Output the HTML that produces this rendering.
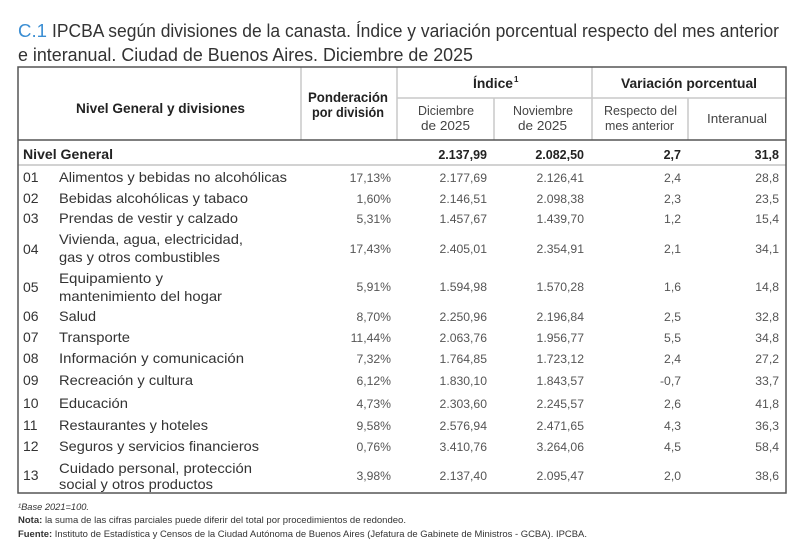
<!DOCTYPE html>
<html><head><meta charset="utf-8">
<style>
html,body{margin:0;padding:0;background:#fff;}
svg{display:block;}
text{font-family:"Liberation Sans",sans-serif;}
.t{fill:#333;font-size:18.5px;}
.h{fill:#222;font-size:14px;font-weight:bold;}
.s{fill:#444;font-size:12.5px;}
.n{fill:#333;font-size:14px;}
.v{fill:#555;font-size:12.2px;text-anchor:end;}
.b{fill:#222;font-size:12.5px;font-weight:bold;text-anchor:end;}
.f{fill:#333;font-size:9.5px;}
</style></head>
<body>
<svg width="807" height="546" viewBox="0 0 807 546" xmlns="http://www.w3.org/2000/svg">
<rect x="0" y="0" width="807" height="546" fill="#fff"/>
<!-- Title -->
<text class="t" x="18" y="37" textLength="29" lengthAdjust="spacingAndGlyphs" style="fill:#3b8ed3">C.1</text>
<text class="t" x="52" y="37" textLength="727" lengthAdjust="spacingAndGlyphs">IPCBA según divisiones de la canasta. Índice y variación porcentual respecto del mes anterior</text>
<text class="t" x="18" y="61" textLength="455" lengthAdjust="spacingAndGlyphs">e interanual. Ciudad de Buenos Aires. Diciembre de 2025</text>

<!-- Table lines -->
<g stroke="#c8c8c8" stroke-width="1.5" fill="none">
<line x1="301" y1="67" x2="301" y2="140"/>
<line x1="397" y1="67" x2="397" y2="140"/>
<line x1="592" y1="67" x2="592" y2="140"/>
<line x1="494" y1="98" x2="494" y2="140"/>
<line x1="688" y1="98" x2="688" y2="140"/>
<line x1="397" y1="98" x2="786" y2="98"/>
</g>
<line x1="18" y1="165" x2="786" y2="165" stroke="#d2d2d2" stroke-width="2"/>
<line x1="18" y1="140" x2="786" y2="140" stroke="#555" stroke-width="1.5"/>
<rect x="18" y="67" width="768" height="426" fill="none" stroke="#555" stroke-width="1.5"/>

<!-- Header -->
<text class="h" x="76" y="113" textLength="169" lengthAdjust="spacingAndGlyphs">Nivel General y divisiones</text>
<text class="h" x="308" y="102" textLength="80" lengthAdjust="spacingAndGlyphs">Ponderación</text>
<text class="h" x="312" y="117" textLength="72" lengthAdjust="spacingAndGlyphs">por división</text>
<text class="h" x="473" y="88" textLength="40" lengthAdjust="spacingAndGlyphs">Índice</text>
<text class="h" x="514" y="82" style="font-size:8px">1</text>
<text class="h" x="621" y="88" textLength="136" lengthAdjust="spacingAndGlyphs">Variación porcentual</text>
<text class="s" x="418" y="115" textLength="56" lengthAdjust="spacingAndGlyphs">Diciembre</text>
<text class="s" x="421" y="130" textLength="49" lengthAdjust="spacingAndGlyphs">de 2025</text>
<text class="s" x="513" y="115" textLength="60" lengthAdjust="spacingAndGlyphs">Noviembre</text>
<text class="s" x="518" y="130" textLength="49" lengthAdjust="spacingAndGlyphs">de 2025</text>
<text class="s" x="604" y="115" textLength="73" lengthAdjust="spacingAndGlyphs">Respecto del</text>
<text class="s" x="605" y="130" textLength="69" lengthAdjust="spacingAndGlyphs">mes anterior</text>
<text class="s" x="707" y="123" textLength="60" lengthAdjust="spacingAndGlyphs">Interanual</text>

<!-- Nivel General -->
<text class="h" x="23" y="159" textLength="90" lengthAdjust="spacingAndGlyphs">Nivel General</text>
<text class="b" x="487" y="159">2.137,99</text>
<text class="b" x="584" y="159">2.082,50</text>
<text class="b" x="681" y="159">2,7</text>
<text class="b" x="779" y="159">31,8</text>

<!-- Rows -->
<g>
<text class="n" x="23" y="182">01</text>
<text class="n" x="59" y="182" textLength="228" lengthAdjust="spacingAndGlyphs">Alimentos y bebidas no alcohólicas</text>
<text class="v" x="391" y="182">17,13%</text><text class="v" x="487" y="182">2.177,69</text><text class="v" x="584" y="182">2.126,41</text><text class="v" x="681" y="182">2,4</text><text class="v" x="779" y="182">28,8</text>

<text class="n" x="23" y="203">02</text>
<text class="n" x="59" y="203" textLength="189" lengthAdjust="spacingAndGlyphs">Bebidas alcohólicas y tabaco</text>
<text class="v" x="391" y="203">1,60%</text><text class="v" x="487" y="203">2.146,51</text><text class="v" x="584" y="203">2.098,38</text><text class="v" x="681" y="203">2,3</text><text class="v" x="779" y="203">23,5</text>

<text class="n" x="23" y="223">03</text>
<text class="n" x="59" y="223" textLength="179" lengthAdjust="spacingAndGlyphs">Prendas de vestir y calzado</text>
<text class="v" x="391" y="223">5,31%</text><text class="v" x="487" y="223">1.457,67</text><text class="v" x="584" y="223">1.439,70</text><text class="v" x="681" y="223">1,2</text><text class="v" x="779" y="223">15,4</text>

<text class="n" x="23" y="254">04</text>
<text class="n" x="59" y="244" textLength="184" lengthAdjust="spacingAndGlyphs">Vivienda, agua, electricidad,</text>
<text class="n" x="59" y="262" textLength="161" lengthAdjust="spacingAndGlyphs">gas y otros combustibles</text>
<text class="v" x="391" y="253">17,43%</text><text class="v" x="487" y="253">2.405,01</text><text class="v" x="584" y="253">2.354,91</text><text class="v" x="681" y="253">2,1</text><text class="v" x="779" y="253">34,1</text>

<text class="n" x="23" y="292">05</text>
<text class="n" x="59" y="283" textLength="104" lengthAdjust="spacingAndGlyphs">Equipamiento y</text>
<text class="n" x="59" y="301" textLength="163" lengthAdjust="spacingAndGlyphs">mantenimiento del hogar</text>
<text class="v" x="391" y="291">5,91%</text><text class="v" x="487" y="291">1.594,98</text><text class="v" x="584" y="291">1.570,28</text><text class="v" x="681" y="291">1,6</text><text class="v" x="779" y="291">14,8</text>

<text class="n" x="23" y="321">06</text>
<text class="n" x="59" y="321" textLength="37" lengthAdjust="spacingAndGlyphs">Salud</text>
<text class="v" x="391" y="321">8,70%</text><text class="v" x="487" y="321">2.250,96</text><text class="v" x="584" y="321">2.196,84</text><text class="v" x="681" y="321">2,5</text><text class="v" x="779" y="321">32,8</text>

<text class="n" x="23" y="342">07</text>
<text class="n" x="59" y="342" textLength="71" lengthAdjust="spacingAndGlyphs">Transporte</text>
<text class="v" x="391" y="342">11,44%</text><text class="v" x="487" y="342">2.063,76</text><text class="v" x="584" y="342">1.956,77</text><text class="v" x="681" y="342">5,5</text><text class="v" x="779" y="342">34,8</text>

<text class="n" x="23" y="363">08</text>
<text class="n" x="59" y="363" textLength="185" lengthAdjust="spacingAndGlyphs">Información y comunicación</text>
<text class="v" x="391" y="363">7,32%</text><text class="v" x="487" y="363">1.764,85</text><text class="v" x="584" y="363">1.723,12</text><text class="v" x="681" y="363">2,4</text><text class="v" x="779" y="363">27,2</text>

<text class="n" x="23" y="385">09</text>
<text class="n" x="59" y="385" textLength="134" lengthAdjust="spacingAndGlyphs">Recreación y cultura</text>
<text class="v" x="391" y="385">6,12%</text><text class="v" x="487" y="385">1.830,10</text><text class="v" x="584" y="385">1.843,57</text><text class="v" x="681" y="385">-0,7</text><text class="v" x="779" y="385">33,7</text>

<text class="n" x="23" y="408">10</text>
<text class="n" x="59" y="408" textLength="69" lengthAdjust="spacingAndGlyphs">Educación</text>
<text class="v" x="391" y="408">4,73%</text><text class="v" x="487" y="408">2.303,60</text><text class="v" x="584" y="408">2.245,57</text><text class="v" x="681" y="408">2,6</text><text class="v" x="779" y="408">41,8</text>

<text class="n" x="23" y="430">11</text>
<text class="n" x="59" y="430" textLength="149" lengthAdjust="spacingAndGlyphs">Restaurantes y hoteles</text>
<text class="v" x="391" y="430">9,58%</text><text class="v" x="487" y="430">2.576,94</text><text class="v" x="584" y="430">2.471,65</text><text class="v" x="681" y="430">4,3</text><text class="v" x="779" y="430">36,3</text>

<text class="n" x="23" y="451">12</text>
<text class="n" x="59" y="451" textLength="200" lengthAdjust="spacingAndGlyphs">Seguros y servicios financieros</text>
<text class="v" x="391" y="451">0,76%</text><text class="v" x="487" y="451">3.410,76</text><text class="v" x="584" y="451">3.264,06</text><text class="v" x="681" y="451">4,5</text><text class="v" x="779" y="451">58,4</text>

<text class="n" x="23" y="480">13</text>
<text class="n" x="59" y="473" textLength="193" lengthAdjust="spacingAndGlyphs">Cuidado personal, protección</text>
<text class="n" x="59" y="489" textLength="154" lengthAdjust="spacingAndGlyphs">social y otros productos</text>
<text class="v" x="391" y="480">3,98%</text><text class="v" x="487" y="480">2.137,40</text><text class="v" x="584" y="480">2.095,47</text><text class="v" x="681" y="480">2,0</text><text class="v" x="779" y="480">38,6</text>
</g>

<!-- Footnotes -->
<text class="f" x="18" y="510" style="font-style:italic" textLength="71" lengthAdjust="spacingAndGlyphs">¹Base 2021=100.</text>
<text class="f" x="18" y="523" textLength="388" lengthAdjust="spacingAndGlyphs"><tspan font-weight="bold">Nota:</tspan> la suma de las cifras parciales puede diferir del total por procedimientos de redondeo.</text>
<text class="f" x="18" y="537" textLength="569" lengthAdjust="spacingAndGlyphs"><tspan font-weight="bold">Fuente:</tspan> Instituto de Estadística y Censos de la Ciudad Autónoma de Buenos Aires (Jefatura de Gabinete de Ministros - GCBA). IPCBA.</text>
</svg>
</body></html>
